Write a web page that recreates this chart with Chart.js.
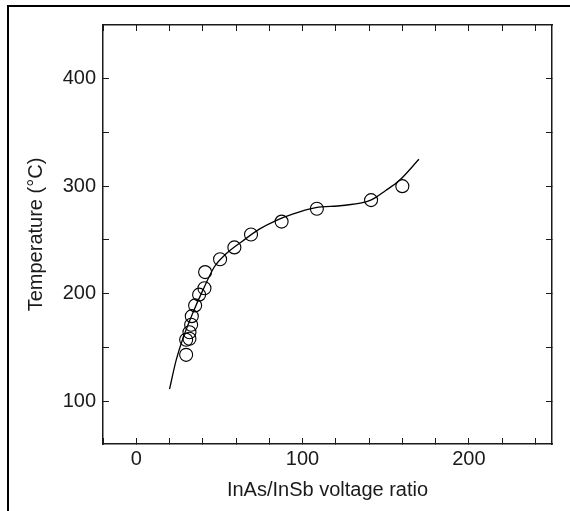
<!DOCTYPE html>
<html>
<head>
<meta charset="utf-8">
<script src="https://cdn.jsdelivr.net/npm/chart.js@4/dist/chart.umd.min.js"></script>
<style>
  html, body { margin: 0; padding: 0; background: #fff; }
  #wrap { width: 570px; height: 511px; }
</style>
</head>
<body>
<div id="wrap"><canvas id="tempChart"></canvas></div>
<script>
// measured points
const ratio = [30, 30, 32, 32, 33, 33.4, 35.4, 37.8, 41, 41.4, 50.4, 59, 69, 87.4, 108.6, 141.2, 160];
const temperature = [143, 157, 158, 164, 171, 179, 189, 199, 205, 220, 232, 243, 255, 267, 279, 287, 300];

// fitted curve
const fitRatio = [20, 24, 28, 34, 40, 47, 54, 64, 74, 84, 94, 108, 124, 141, 150, 158, 170];
const fitTemp = [111, 138, 158, 182, 203, 225, 237, 249, 260, 268, 274, 280, 282, 287, 296, 305, 325];

// ticks
const xTicks = [-20, 0, 20, 40, 60, 80, 100, 120, 140, 160, 180, 200, 220, 240];
const xLabels = [0, 100, 200];
const yTicks = [100, 150, 200, 250, 300, 350, 400];
const yLabels = [100, 200, 300, 400];

const FONT = "'Liberation Sans', Arial, sans-serif";
const INK = "#1a1a1a";

const toXY = (xs, ys) => xs.map((x, i) => ({ x, y: ys[i] }));
const setTicks = (vals) => (scale) => { scale.ticks = vals.map((value) => ({ value })); };

const frame = {
  id: "frame",
  beforeDraw(chart) {
    const ctx = chart.ctx;
    ctx.save();
    ctx.fillStyle = "#fff";
    ctx.fillRect(0, 0, chart.width, chart.height);
    ctx.strokeStyle = "#000";
    ctx.lineWidth = 2;
    ctx.beginPath();
    ctx.moveTo(8, chart.height);
    ctx.lineTo(8, 6);
    ctx.lineTo(chart.width, 6);
    ctx.stroke();
    ctx.restore();
  },
};

const axisGrid = { drawOnChartArea: false, tickLength: -6, color: INK, lineWidth: 1 };
const axisBorder = { color: INK, width: 1.5 };

new Chart(document.getElementById("tempChart").getContext("2d"), {
  type: "scatter",
  data: {
    datasets: [
      {
        label: "fit",
        data: toXY(fitRatio, fitTemp),
        showLine: true,
        cubicInterpolationMode: "monotone",
        borderColor: "#000",
        borderWidth: 1.3,
        pointRadius: 0,
        order: 2,
      },
      {
        label: "measured",
        data: toXY(ratio, temperature),
        pointStyle: "circle",
        pointRadius: 6.5,
        borderColor: "#000",
        borderWidth: 1.1,
        backgroundColor: "rgba(255,255,255,0)",
        order: 1,
      },
    ],
  },
  options: {
    responsive: true,
    maintainAspectRatio: false,
    animation: false,
    layout: { padding: { top: 25, right: 18, left: 0, bottom: 0 } },
    plugins: { legend: { display: false }, tooltip: { enabled: false } },
    scales: {
      x: {
        type: "linear",
        position: "bottom",
        min: -20,
        max: 250,
        afterBuildTicks: setTicks(xTicks),
        afterFit: (s) => { s.height = 67; },
        grid: axisGrid,
        border: axisBorder,
        ticks: {
          autoSkip: false,
          maxRotation: 0,
          padding: 9,
          color: INK,
          font: { family: FONT, size: 20 },
          callback: (v) => (xLabels.includes(v) ? String(v) : ""),
        },
        title: {
          display: true,
          text: "InAs/InSb voltage ratio",
          color: INK,
          font: { family: FONT, size: 20 },
          padding: { top: 0, bottom: 9 },
        },
      },
      x2: {
        type: "linear",
        position: "top",
        min: -20,
        max: 250,
        afterBuildTicks: setTicks(xTicks),
        afterFit: (s) => { s.height = 0; },
        grid: axisGrid,
        border: axisBorder,
        ticks: { display: false },
      },
      y: {
        type: "linear",
        position: "left",
        min: 60,
        max: 450,
        afterBuildTicks: setTicks(yTicks),
        afterFit: (s) => { s.width = 103; },
        grid: axisGrid,
        border: axisBorder,
        ticks: {
          autoSkip: false,
          padding: 13,
          color: INK,
          font: { family: FONT, size: 20 },
          callback: (v) => (yLabels.includes(v) ? String(v) : ""),
        },
        title: {
          display: true,
          text: "Temperature (°C)",
          color: INK,
          font: { family: FONT, size: 20 },
          padding: { top: 24, bottom: 0 },
        },
      },
      y2: {
        type: "linear",
        position: "right",
        min: 60,
        max: 450,
        afterBuildTicks: setTicks(yTicks),
        afterFit: (s) => { s.width = 0; },
        grid: axisGrid,
        border: axisBorder,
        ticks: { display: false },
      },
    },
  },
  plugins: [frame],
});
</script>
</body>
</html>
